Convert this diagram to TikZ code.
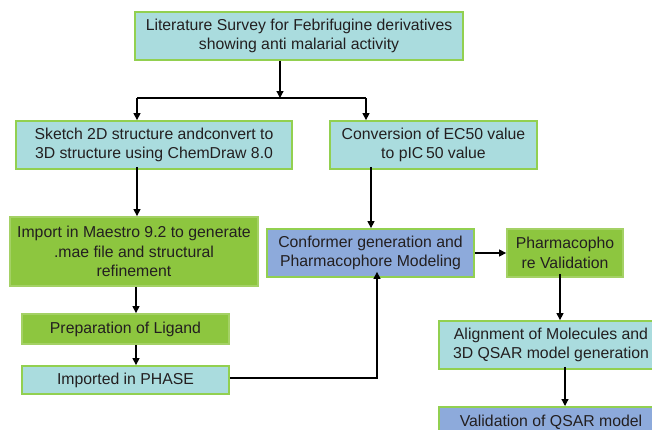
\documentclass[tikz,border=0pt]{standalone}
\usepackage{fontspec}
\setmainfont{Liberation Sans}
\usetikzlibrary{arrows.meta,calc}
\definecolor{cyanfill}{RGB}{170,220,222}
\definecolor{greenfill}{RGB}{141,198,63}
\definecolor{bluefill}{RGB}{141,170,219}
\definecolor{greenline}{RGB}{146,208,80}
\definecolor{txt}{RGB}{35,31,32}
\begin{document}
\begin{tikzpicture}[x=1pt,y=-1pt,
  box/.style={draw=greenline,line width=1.8pt,align=center,inner sep=0pt,
    font=\fontsize{15.8}{19.5}\selectfont,text=txt,minimum height=48pt},
  cbox/.style={box,fill=cyanfill},
  gbox/.style={box,fill=greenfill,draw=greenfill!80!white},
  bbox/.style={box,fill=bluefill},
  arr/.style={line width=1.2pt,-{Triangle[length=7pt,width=7pt]}},
  ln/.style={line width=1.2pt}]
\useasboundingbox (0,0) rectangle (652,429);
\fill[white] (0,0) rectangle (652,429);
\begin{scope}
\clip (0,0) rectangle (652,429);
\node[cbox,minimum width=328pt] (top) at (299,36) {Literature Survey for Febrifugine derivatives\\showing anti malarial activity};
\node[cbox,minimum width=276pt] (sketch) at (154,145) {Sketch 2D structure andconvert to\\3D structure using ChemDraw 8.0};
\node[cbox,minimum width=207pt] (conv) at (433.5,145) {Conversion of EC50 value\\to pIC\,50 value};
\node[gbox,minimum width=248pt,minimum height=69pt] (import) at (134,251.5) {Import in Maestro 9.2 to generate\\.mae file and structural\\refinement};
\node[gbox,minimum width=207pt,minimum height=30pt] (prep) at (125.5,329) {Preparation of Ligand};
\node[cbox,minimum width=207pt,minimum height=28pt] (phase) at (125.5,380) {Imported in PHASE};
\node[bbox,minimum width=207pt] (conf) at (370.5,253) {Conformer generation and\\Pharmacophore Modeling};
\node[gbox,minimum width=116pt] (pv) at (565,253) {Pharmacopho\\re Validation};
\node[cbox,minimum width=224pt] (align) at (551,345) {Alignment of Molecules and\\3D QSAR model generation};
\node[bbox,minimum width=224pt,anchor=north] (valid) at (551,406) {Validation of QSAR model\\\phantom{x}};
\coordinate (split) at (280,98);
\coordinate (lsplit) at (137,98);
\coordinate (rsplit) at (366,98);
\draw[arr] (top.south -| split) -- (split);
\draw[ln] (lsplit) -- (rsplit);
\draw[arr] (lsplit) -- (sketch.north -| lsplit);
\draw[arr] (rsplit) -- (conv.north -| rsplit);
\draw[arr] ([yshift=3pt]sketch.south -| lsplit) -- (import.north -| lsplit);
\draw[arr] ([yshift=3pt]conv.south -| 371,0) -- (conf.north -| 371,0);
\draw[arr] (import.south -| 136,0) -- (prep.north -| 136,0);
\draw[arr] (prep.south -| 136,0) -- (phase.north -| 136,0);
\draw[arr] (phase.east |- 0,378) -| ([yshift=6pt]conf.south -| 377,0);
\draw[arr] (conf.east) -- (pv.west);
\draw[arr] ([yshift=4pt]pv.south -| 560,0) -- (align.north -| 560,0);
\draw[arr] ([yshift=3pt]align.south -| 565,0) -- (valid.north -| 565,0);
\end{scope}
\end{tikzpicture}
\end{document}
